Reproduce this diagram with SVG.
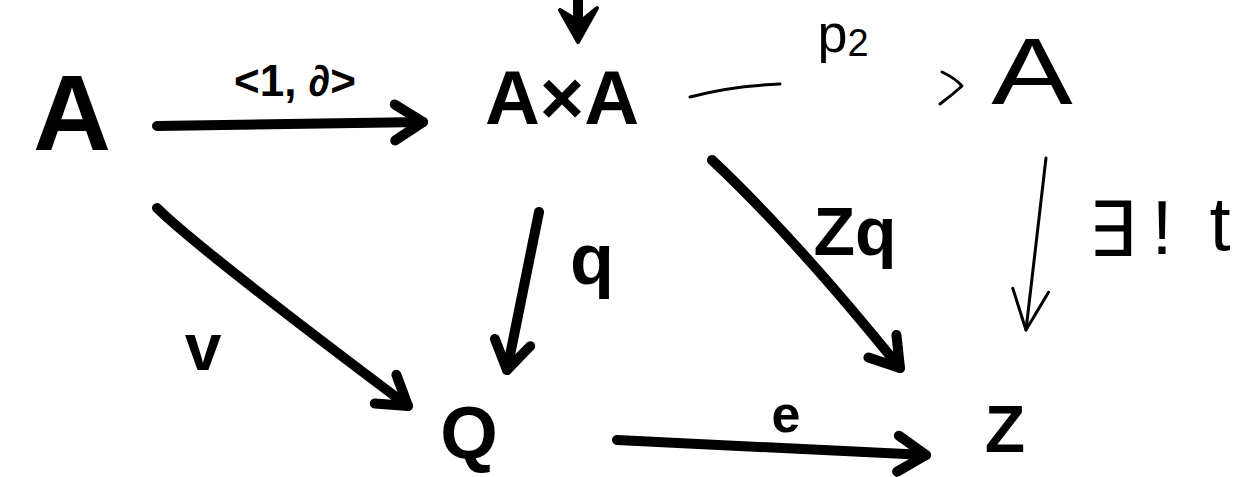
<svg xmlns="http://www.w3.org/2000/svg" width="1257" height="477" viewBox="0 0 1257 477">
<defs>
<style>
.t{font-family:"Liberation Sans",Arial,sans-serif;font-weight:bold;fill:#000;text-anchor:middle}
.thin{font-family:"Liberation Sans",Arial,sans-serif;font-weight:normal;fill:#000;text-anchor:middle}
.thick{fill:none;stroke:#000;stroke-width:10;stroke-linecap:round;stroke-linejoin:round}
.lite{fill:none;stroke:#000;stroke-width:3;stroke-linecap:round;stroke-linejoin:round}
</style>
<marker id="hk" markerUnits="userSpaceOnUse" markerWidth="50" markerHeight="50" viewBox="-5 -5 50 50" refX="32" refY="20" orient="auto">
<path d="M4,2 L32,20 L4,38" fill="none" stroke="#000" stroke-width="10" stroke-linecap="round" stroke-linejoin="round"/>
</marker>
<marker id="hl" markerUnits="userSpaceOnUse" markerWidth="50" markerHeight="50" viewBox="-5 -5 50 50" refX="42" refY="20" orient="auto">
<path d="M2,2 L42,20 L2,38" fill="none" stroke="#000" stroke-width="3" stroke-linecap="round" stroke-linejoin="round"/>
</marker>
</defs>
<rect width="1257" height="477" fill="#fff"/>
<g id="connectors">
<path class="thick" d="M157,126 L423,122" marker-end="url(#hk)"/>
<path class="thick" d="M578,0 L578,30"/>
<polygon points="560,10 578,42 597,8 580,22" fill="#000" stroke="#000" stroke-width="4" stroke-linejoin="round"/>
<path class="lite" d="M690,97 Q730,86 780,84"/>
<path class="lite" d="M942,72 Q955,78 962,86 Q952,95 940,104"/>
<path class="thick" d="M712,160 Q795,238 900,368" marker-end="url(#hk)"/>
<path class="thick" d="M539,212 L507,370" marker-end="url(#hk)"/>
<path class="lite" d="M1046,158 L1026,330" marker-end="url(#hl)"/>
<path class="thick" d="M157,208 Q200,250 408,406" marker-end="url(#hk)"/>
<path class="thick" d="M617,440 L926,455" marker-end="url(#hk)"/>
<text class="t" x="295" y="96" font-size="44">&lt;1, ∂&gt;</text>
<text class="thin" x="843" y="52" font-size="54">p<tspan font-size="38" dy="4">2</tspan></text>
<text class="t" x="855" y="255" font-size="68">Zq</text>
<text class="t" x="592" y="284" font-size="72">q</text>
<text class="thin" x="1112" y="256" font-size="76">∃</text>
<text class="thin" x="1162" y="254" font-size="76">!</text>
<text class="thin" x="1220" y="250" font-size="76">t</text>
<text class="t" x="203" y="370" font-size="66">v</text>
<text class="t" x="786" y="432" font-size="52">e</text>
</g>
<g id="node-A"><text class="t" x="72" y="150" font-size="108">A</text></g>
<g id="node-AxA"><text class="t" x="562" y="124" font-size="76">A×A</text></g>
<g id="node-A2"><text class="thin" font-size="94" transform="translate(1032,104) scale(1.3,1)" x="0" y="0">A</text></g>
<g id="node-Q"><text class="t" x="469" y="458" font-size="74">Q</text></g>
<g id="node-Z"><text class="t" x="1005" y="452" font-size="66">Z</text></g>
</svg>
